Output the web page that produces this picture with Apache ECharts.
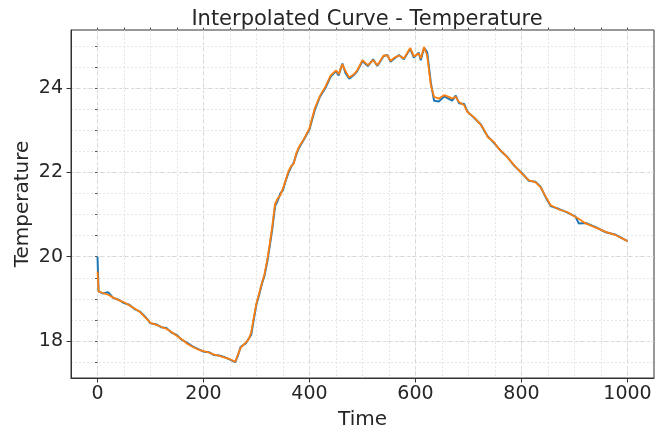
<!DOCTYPE html>
<html>
<head>
<meta charset="utf-8">
<script src="https://cdn.jsdelivr.net/npm/echarts@6/dist/echarts.min.js"></script>
<style>
html,body{margin:0;padding:0;background:#fff;}
#chart{width:672px;height:433px;}
</style>
</head>
<body>
<div id="chart"></div>
<script>
// Time samples (x)
const timePoints = [0,2,10,20,30,40,50,60,70,80,90,100,110,120,130,140,150,160,170,180,190,200,210,220,230,240,250,260,265,270,280,285,290,295,300,305,310,315,320,325,330,335,340,345,350,355,360,365,370,375,380,390,400,410,420,430,440,450,455,462,468,475,485,490,500,510,520,528,540,547,553,560,569,578,590,597,606,610,616,622,629,635,644,654,663,669,676,682,692,698,710,723,730,736,748,757,764,773,786,800,814,826,836,846,855,871,886,902,908,921,940,959,978,1000];
// Original (blue) temperature readings
const originalTemp = [20.00,19.18,19.13,19.16,19.02,18.98,18.90,18.86,18.76,18.70,18.58,18.42,18.40,18.33,18.31,18.20,18.14,18.02,17.95,17.87,17.81,17.75,17.74,17.67,17.66,17.62,17.56,17.50,17.66,17.86,17.95,18.05,18.15,18.52,18.88,19.10,19.35,19.55,19.86,20.25,20.68,21.20,21.33,21.50,21.58,21.80,21.98,22.12,22.22,22.42,22.58,22.79,23.02,23.48,23.80,24.00,24.27,24.40,24.30,24.58,24.35,24.22,24.32,24.40,24.64,24.52,24.68,24.52,24.76,24.78,24.62,24.70,24.78,24.68,24.93,24.72,24.84,24.66,24.95,24.85,24.12,23.70,23.68,23.80,23.74,23.70,23.82,23.64,23.62,23.44,23.30,23.14,22.98,22.86,22.70,22.57,22.47,22.37,22.16,21.99,21.80,21.78,21.66,21.40,21.20,21.13,21.05,20.95,20.79,20.80,20.70,20.58,20.52,20.37];
// Interpolated (orange) temperature curve
const interpolatedTemp = [19.65,19.18,19.14,19.10,19.03,18.97,18.92,18.85,18.77,18.69,18.56,18.43,18.39,18.34,18.29,18.21,18.12,18.03,17.93,17.86,17.80,17.76,17.73,17.68,17.65,17.61,17.57,17.51,17.68,17.84,17.97,18.04,18.20,18.57,18.90,19.13,19.37,19.58,19.90,20.30,20.75,21.25,21.38,21.46,21.62,21.81,22.02,22.14,22.20,22.45,22.60,22.80,23.05,23.52,23.82,24.03,24.30,24.42,24.33,24.56,24.40,24.25,24.34,24.42,24.66,24.54,24.66,24.54,24.77,24.77,24.64,24.72,24.77,24.70,24.95,24.75,24.82,24.70,24.97,24.77,24.06,23.79,23.75,23.83,23.79,23.75,23.79,23.67,23.59,23.43,23.31,23.13,23.00,22.84,22.72,22.56,22.48,22.36,22.17,21.98,21.81,21.77,21.65,21.42,21.22,21.12,21.06,20.94,20.90,20.79,20.69,20.59,20.51,20.37];
// Tick values
const xMajorTicks = [0,200,400,600,800,1000];
const xMinorTicks = [0,50,100,150,200,250,300,350,400,450,500,550,600,650,700,750,800,850,900,950,1000];
const yMajorTicks = [18,20,22,24];
const yMinorTicks = [17.5,18,18.5,19,19.5,20,20.5,21,21.5,22,22.5,23,23.5,24,24.5,25];

const FONT = 'DejaVu Sans';
const TXT = '#262626';
const AX = '#333333';

const origData = timePoints.map((t,i)=>[t, originalTemp[i]]);
const interpData = timePoints.map((t,i)=>[t, interpolatedTemp[i]]);

const xBase = {type:'value', min:-50, max:1050, gridIndex:0};
const yBase = {type:'value', min:17.125, max:25.375, gridIndex:0};

const chart = echarts.init(document.getElementById('chart'), null, {renderer:'canvas'});
chart.setOption({
  animation:false,
  backgroundColor:'#ffffff',
  title:{
    text:'Interpolated Curve - Temperature',
    left:362, top:4, textAlign:'center',
    textStyle:{fontFamily:FONT, fontSize:21, fontWeight:'normal', color:TXT}
  },
  grid:{left:71, right:18, top:30, bottom:55, containLabel:false, outerBoundsMode:'none',
        show:true, borderColor:AX, borderWidth:1, backgroundColor:'transparent'},
  xAxis:[
    Object.assign({}, xBase, {
      name:'Time', nameLocation:'middle', nameGap:32, nameMoveOverlap:false,
      nameTextStyle:{fontFamily:FONT, fontSize:20, color:TXT},
      axisLine:{show:true, onZero:false, lineStyle:{color:AX, width:1}},
      axisTick:{show:true, inside:false, length:4.5, customValues:xMajorTicks, lineStyle:{color:AX}},
      axisLabel:{show:true, customValues:xMajorTicks, margin:7, fontFamily:FONT, fontSize:19, color:TXT,
                 formatter:(v)=>String(v)},
      splitLine:{show:true, lineStyle:{color:'#c8c8c8', type:[3,3], width:0.8}}
    }),
    Object.assign({}, xBase, {
      axisLine:{show:false},
      axisTick:{show:true, inside:false, length:2.5, customValues:xMinorTicks, lineStyle:{color:AX, width:0.8}},
      axisLabel:{show:false},
      splitLine:{show:true, lineStyle:{color:'#e0e0e0', type:[2,2], width:0.8}}
    })
  ],
  yAxis:[
    Object.assign({}, yBase, {
      name:'Temperature', nameLocation:'middle', nameGap:38, nameRotate:90, nameMoveOverlap:false,
      nameTextStyle:{fontFamily:FONT, fontSize:20, color:TXT},
      axisLine:{show:true, onZero:false, lineStyle:{color:AX, width:1}},
      axisTick:{show:true, inside:false, length:4.5, customValues:yMajorTicks, lineStyle:{color:AX}},
      axisLabel:{show:true, customValues:yMajorTicks, margin:8, fontFamily:FONT, fontSize:19, color:TXT,
                 formatter:(v)=>String(v)},
      splitLine:{show:true, lineStyle:{color:'#c8c8c8', type:[3,3], width:0.8}}
    }),
    Object.assign({}, yBase, {
      position:'left',
      axisLine:{show:false},
      axisTick:{show:true, inside:false, length:2.5, customValues:yMinorTicks, lineStyle:{color:AX, width:0.8}},
      axisLabel:{show:false},
      splitLine:{show:true, lineStyle:{color:'#e0e0e0', type:[2,2], width:0.8}}
    })
  ],
  series:[
    {name:'Original', type:'line', data:origData, xAxisIndex:0, yAxisIndex:0, showSymbol:false, symbol:'none',
     lineStyle:{color:'#1f77b4', width:2}, z:2},
    {name:'Interpolated', type:'line', data:interpData, xAxisIndex:0, yAxisIndex:0, showSymbol:false, symbol:'none',
     lineStyle:{color:'#ff7f0e', width:1.8}, z:3}
  ]
});
</script>
</body>
</html>
